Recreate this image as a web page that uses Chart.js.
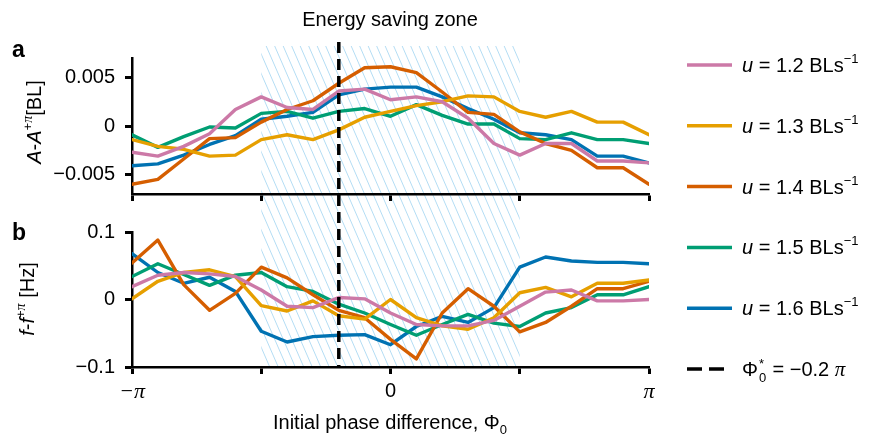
<!DOCTYPE html>
<html>
<head>
<meta charset="utf-8">
<title>Energy saving zone</title>
<script src="https://cdn.jsdelivr.net/npm/chart.js@4.4.1/dist/chart.umd.min.js"></script>
<style>
  body { margin: 0; background: #fff; }
  #wrap { position: relative; width: 869px; height: 434px; }
  #wrap canvas { position: absolute; left: 0; top: 0; }
</style>
</head>
<body>
<div id="wrap">
  <canvas id="panelA" width="869" height="434"></canvas>
  <canvas id="panelB" width="869" height="434"></canvas>
</div>
<script>
// initial phase difference, in units of pi
const phases = [-1.0, -0.9, -0.8, -0.7, -0.6, -0.5, -0.4, -0.3, -0.2, -0.1, 0.0,
                0.1, 0.2, 0.3, 0.4, 0.5, 0.6, 0.7, 0.8, 0.9, 1.0];
const speeds = ['1.2', '1.3', '1.4', '1.5', '1.6'];
const colors = ['#CC79A7', '#E69F00', '#D55E00', '#009E73', '#0072B2'];

// panel a: A - A(+pi) [BL]
const amp12 = [-0.0027, -0.0031, -0.0021, -0.0008, 0.0017, 0.0030, 0.0019, 0.0017, 0.0036, 0.0038, 0.0027,
               0.0030, 0.0025, 0.0008, -0.0018, -0.0030, -0.0018, -0.0018, -0.0036, -0.0036, -0.0038];
const amp13 = [-0.0014, -0.0021, -0.0024, -0.0031, -0.0030, -0.0014, -0.0009, -0.0014, -0.0004, 0.0009, 0.0015,
               0.0021, 0.0025, 0.0031, 0.0030, 0.0015, 0.0009, 0.0015, 0.0004, 0.0004, -0.0009];
const amp14 = [-0.0060, -0.0055, -0.0034, -0.0013, -0.0012, 0.0004, 0.0017, 0.0026, 0.0044, 0.0060, 0.0061,
               0.0055, 0.0035, 0.0014, 0.0012, -0.0006, -0.0018, -0.0025, -0.0043, -0.0043, -0.0060];
const amp15 = [-0.0009, -0.0022, -0.0011, -0.0001, -0.0002, 0.0013, 0.0015, 0.0008, 0.0015, 0.0018, 0.0010,
               0.0022, 0.0011, 0.0002, 0.0002, -0.0013, -0.0014, -0.0007, -0.0014, -0.0014, -0.0018];
const amp16 = [-0.0041, -0.0039, -0.0030, -0.0019, -0.0010, 0.0007, 0.0010, 0.0014, 0.0032, 0.0038, 0.0040,
               0.0040, 0.0030, 0.0018, 0.0007, -0.0007, -0.0009, -0.0014, -0.0031, -0.0031, -0.0038];

// panel b: f - f(+pi) [Hz]
const freq12 = [0.019, 0.036, 0.040, 0.038, 0.034, 0.014, -0.010, -0.012, 0.003, 0.001, -0.020,
                -0.037, -0.039, -0.039, -0.031, -0.010, 0.011, 0.014, -0.002, -0.002, 0.000];
const freq13 = [0.001, 0.027, 0.040, 0.044, 0.034, -0.009, -0.017, -0.002, -0.024, -0.029, 0.000,
                -0.027, -0.039, -0.044, -0.027, 0.010, 0.018, 0.004, 0.024, 0.024, 0.029];
const freq14 = [0.054, 0.088, 0.022, -0.016, 0.009, 0.048, 0.032, 0.007, -0.016, -0.027, -0.059,
                -0.088, -0.020, 0.016, -0.010, -0.048, -0.034, -0.010, 0.016, 0.016, 0.027];
const freq15 = [0.034, 0.053, 0.037, 0.021, 0.036, 0.040, 0.019, 0.012, -0.007, -0.020, -0.037,
                -0.053, -0.037, -0.022, -0.035, -0.040, -0.020, -0.012, 0.007, 0.007, 0.019];
const freq16 = [0.068, 0.040, 0.024, 0.033, 0.012, -0.047, -0.063, -0.055, -0.053, -0.052, -0.067,
                -0.040, -0.025, -0.034, -0.012, 0.048, 0.063, 0.057, 0.055, 0.055, 0.053];

const xTicks = [-1, -0.5, 0, 0.5, 1];
const xTickLabels = ['\u2212\u03c0', '', '0', '', '\u03c0'];
const ampTicks = [-0.005, 0, 0.005];
const ampTickLabels = ['\u22120.005', '0', '0.005'];
const freqTicks = [-0.1, 0, 0.1];
const freqTickLabels = ['\u22120.1', '0', '0.1'];
const zoneRange = [-0.5, 0.5];
const optimalPhase = -0.2;

const SANS = "'Liberation Sans', Arial, sans-serif";
const SERIF = "'Liberation Serif', 'Times New Roman', serif";
Chart.defaults.font.family = SANS;
Chart.defaults.font.size = 20;
Chart.defaults.color = '#000';

// page layout of the two plot boxes
const LEFT = 132, RIGHT = 649;
const boxA = { top: 58, bottom: 194 };
const boxB = { top: 232, bottom: 367 };

function xAxis(showLabels) {
    return {
        type: 'linear', min: -1, max: 1,
        afterBuildTicks: s => { s.ticks = xTicks.map(v => ({ value: v })); },
        afterFit: s => { s.height = showLabels ? 34 : 8; },
        grid: { drawOnChartArea: false, drawTicks: true, tickLength: 7, tickWidth: 3, tickColor: '#000' },
        border: { display: true, color: '#000', width: 2.5 },
        ticks: {
            display: showLabels, autoSkip: false, maxRotation: 0, padding: 5,
            callback: (v, i) => xTickLabels[i],
            font: ctx => (ctx.tick && ctx.tick.value !== 0)
                ? { family: SERIF, style: 'italic', size: 22 }
                : { family: SANS, size: 20 }
        }
    };
}

function yAxis(values, labels, min, max) {
    return {
        type: 'linear', min: min, max: max,
        afterBuildTicks: s => { s.ticks = values.map(v => ({ value: v })); },
        afterFit: s => { s.width = LEFT; },
        grid: { drawOnChartArea: false, drawTicks: true, tickLength: 7, tickWidth: 3, tickColor: '#000' },
        border: { display: true, color: '#000', width: 2.5 },
        ticks: { autoSkip: false, padding: 10, callback: (v, i) => labels[i] }
    };
}

function makeDatasets(series) {
    return series.map((vals, i) => ({
        label: 'u = ' + speeds[i] + ' BLs\u207b\u00b9',
        data: phases.map((p, j) => ({ x: p, y: vals[j] })),
        borderColor: colors[i],
        borderWidth: 3.4,
        pointRadius: 0,
        tension: 0,
        borderJoinStyle: 'round',
        borderCapStyle: 'round'
    }));
}

// mixed-style text: parts = [text, font, dy]
function drawRich(ctx, parts, x, y, align) {
    let w = 0;
    parts.forEach(p => { ctx.font = p[1]; w += ctx.measureText(p[0]).width; });
    let cx = align === 'center' ? x - w / 2 : x;
    ctx.textAlign = 'left';
    ctx.textBaseline = 'alphabetic';
    parts.forEach(p => {
        ctx.font = p[1];
        ctx.fillText(p[0], cx, y + (p[2] || 0));
        cx += ctx.measureText(p[0]).width;
    });
    return cx;
}

const N = "20px " + SANS, I = "italic 20px " + SANS, S = "13px " + SANS;
const PI = "italic 21px " + SERIF, SPI = "italic 14px " + SERIF;

const hatchPlugin = {
    id: 'hatch',
    beforeDraw(chart) {
        const { ctx, scales: { x } } = chart;
        const x0 = x.getPixelForValue(zoneRange[0]);
        const x1 = x.getPixelForValue(zoneRange[1]);
        const top = 46, bottom = boxB.bottom;
        const run = (bottom - top) / 2.3;
        ctx.save();
        ctx.beginPath();
        ctx.rect(x0, top, x1 - x0, bottom - top);
        ctx.clip();
        ctx.strokeStyle = '#b4ddf4';
        ctx.lineWidth = 1;
        for (let sx = x0 - run; sx < x1 + 1; sx += 8.5) {
            ctx.beginPath();
            ctx.moveTo(sx, top);
            ctx.lineTo(sx + run, bottom);
            ctx.stroke();
        }
        ctx.restore();
    }
};

const textPlugin = {
    id: 'texts',
    afterDraw(chart) {
        const ctx = chart.ctx;
        ctx.save();
        ctx.fillStyle = '#000';
        drawRich(ctx, [['Energy saving zone', N]], 390, 26, 'center');
        ctx.font = "bold 23px " + SANS;
        ctx.fillText('a', 12, 57);
        ctx.fillText('b', 12, 240);

        // y titles
        ctx.save();
        ctx.translate(41, 122);
        ctx.rotate(-Math.PI / 2);
        drawRich(ctx, [['A', I], ['-', N], ['A', I], ['+', S, -9], ['\u03c0', SPI, -9], ['[BL]', N]], 0, 0, 'center');
        ctx.restore();
        ctx.save();
        ctx.translate(34, 299);
        ctx.rotate(-Math.PI / 2);
        drawRich(ctx, [['f', I], ['-', N], ['f', I], ['+', S, -9], ['\u03c0', SPI, -9], [' [Hz]', N]], 0, 0, 'center');
        ctx.restore();

        // x title
        drawRich(ctx, [['Initial phase difference, \u03a6', N], ['0', S, 5]], 390, 429, 'center');

        // legend
        const lx0 = 687, lx1 = 732, tx = 742;
        chart.data.datasets.forEach((ds, i) => {
            const y = 65 + i * 60.8;
            ctx.strokeStyle = ds.borderColor;
            ctx.lineWidth = 3.5;
            ctx.beginPath();
            ctx.moveTo(lx0, y);
            ctx.lineTo(lx1, y);
            ctx.stroke();
            drawRich(ctx, [['u', I], [' = ' + speeds[i] + ' BLs', N], ['\u22121', S, -9]], tx, y + 7, 'left');
        });
        const yd = 369;
        ctx.strokeStyle = '#000';
        ctx.lineWidth = 3.5;
        ctx.setLineDash([15, 7]);
        ctx.beginPath();
        ctx.moveTo(lx0, yd);
        ctx.lineTo(lx0 + 37, yd);
        ctx.stroke();
        ctx.setLineDash([]);
        ctx.font = N;
        ctx.textAlign = 'left';
        ctx.fillText('\u03a6', tx, yd + 7);
        let cx = tx + ctx.measureText('\u03a6').width;
        ctx.font = S;
        ctx.fillText('*', cx + 1, yd - 1);
        ctx.fillText('0', cx + 1, yd + 13);
        cx += 9;
        cx = drawRich(ctx, [[' = \u22120.2 ', N]], cx, yd + 7, 'left');
        drawRich(ctx, [['\u03c0', PI]], cx, yd + 7, 'left');
        ctx.restore();
    }
};

const dashPlugin = {
    id: 'optimum',
    afterDraw(chart) {
        const { ctx, scales: { x } } = chart;
        const px = x.getPixelForValue(optimalPhase);
        ctx.save();
        ctx.strokeStyle = '#000';
        ctx.lineWidth = 3.5;
        ctx.setLineDash([11, 6]);
        ctx.beginPath();
        ctx.moveTo(px, 42);
        ctx.lineTo(px, boxB.bottom);
        ctx.stroke();
        ctx.restore();
    }
};

const baseOptions = (box, xHeight) => ({
    responsive: false,
    animation: false,
    layout: { padding: { top: box.top, right: 869 - RIGHT, bottom: 434 - box.bottom - xHeight, left: 0 } },
    plugins: { legend: { display: false }, tooltip: { enabled: false } }
});

const optsA = baseOptions(boxA, 8);
optsA.scales = { x: xAxis(false), y: yAxis(ampTicks, ampTickLabels, -0.007, 0.007) };
new Chart(document.getElementById('panelA'), {
    type: 'line',
    data: { datasets: makeDatasets([amp12, amp13, amp14, amp15, amp16]) },
    options: optsA,
    plugins: [hatchPlugin, textPlugin]
});

const optsB = baseOptions(boxB, 34);
optsB.scales = { x: xAxis(true), y: yAxis(freqTicks, freqTickLabels, -0.1, 0.1) };
new Chart(document.getElementById('panelB'), {
    type: 'line',
    data: { datasets: makeDatasets([freq12, freq13, freq14, freq15, freq16]) },
    options: optsB,
    plugins: [dashPlugin]
});
</script>
</body>
</html>
